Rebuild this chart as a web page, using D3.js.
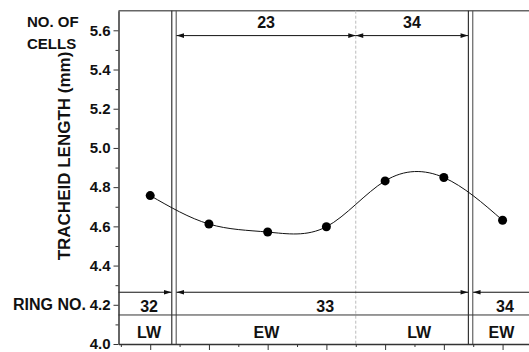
<!DOCTYPE html>
<html>
<head>
<meta charset="utf-8">
<script src="https://cdn.jsdelivr.net/npm/d3@7"></script>
<style>
  body { margin: 0; background: #fff; }
  text { font-family: "Liberation Sans", Arial, sans-serif; font-weight: bold; fill: #111; }
</style>
</head>
<body>
<div id="chart"></div>
<script>
// data
var positions   = [1, 2, 3, 4, 5, 6, 7];
var trachLength = [4.757, 4.612, 4.571, 4.598, 4.832, 4.849, 4.631];

var yMajor = [4.0, 4.2, 4.4, 4.6, 4.8, 5.0, 5.2, 5.4, 5.6];
var yMinor = [4.1, 4.3, 4.5, 4.7, 4.9, 5.1, 5.3, 5.5];
var xMajor = [1, 2, 3, 4, 5, 6, 7];
var xMinor = [0.5, 1.5, 2.5, 3.5, 4.5, 5.5, 6.5];

var ringBounds = [1.405, 6.455];   // ring boundaries (double lines)
var zoneBound  = 4.5;              // EW / LW boundary (dashed)
var ringNos    = ["32", "33", "34"];
var ringX      = [0.98, 3.98, 7.04];
var zones      = ["LW", "EW", "LW", "EW"];
var zoneX      = [0.98, 2.98, 5.58, 6.98];
var cellCounts = ["23", "34"];

var width = 529, height = 352;

var svg = d3.select("#chart")
    .append("svg")
        .attr("width", width)
        .attr("height", height);

var x = d3.scaleLinear()
        .domain([0.46, 7.45])
        .range([118.5, 529]);

var y = d3.scaleLinear()
        .domain([4.0, 5.7])
        .range([344, 10.7]);

// top frame
svg.append("line")
    .attr("x1", x(0.46)).attr("x2", width)
    .attr("y1", y(5.7)).attr("y2", y(5.7))
    .attr("stroke", "#666").attr("stroke-width", 1.5);

// ring boundaries and EW/LW boundary
ringBounds.forEach(function(b) {
    [-2.2, 2.2].forEach(function(off, k) {
        svg.append("line")
            .attr("x1", x(b) + off).attr("x2", x(b) + off)
            .attr("y1", y(5.7)).attr("y2", y(4.0))
            .attr("stroke", k == 0 ? "#222" : "#555")
            .attr("stroke-width", 1.1);
    });
});

svg.append("line")
    .attr("x1", x(zoneBound)).attr("x2", x(zoneBound))
    .attr("y1", y(5.7)).attr("y2", y(4.0))
    .attr("stroke", "#bbb")
    .attr("stroke-dasharray", "3,2");

// separator under ring numbers
svg.append("line")
    .attr("x1", x(0.46)).attr("x2", width)
    .attr("y1", y(4.148)).attr("y2", y(4.148))
    .attr("stroke", "#333").attr("stroke-width", 1);

function arrowHead(px, py, dir) {
    var L = 7.5, w = 2.3;
    svg.append("path")
        .attr("d", "M" + px + "," + py +
                   "L" + (px - dir * L) + "," + (py - w) +
                   "L" + (px - dir * L) + "," + (py + w) + "Z")
        .attr("fill", "#111");
}

function span(x1, x2, yv, leftArrow, rightArrow) {
    svg.append("line")
        .attr("x1", x1).attr("x2", x2)
        .attr("y1", y(yv)).attr("y2", y(yv))
        .attr("stroke", "#111").attr("stroke-width", 1);
    if (leftArrow) arrowHead(x1, y(yv), -1);
    if (rightArrow) arrowHead(x2, y(yv), 1);
}

// number of cells row
var cellSegs = [[x(ringBounds[0]) + 2.5, x(zoneBound)], [x(zoneBound), x(ringBounds[1]) - 2.5]];
cellSegs.forEach(function(s, i) {
    span(s[0], s[1], 5.573, true, true);
    svg.append("text")
        .attr("x", (s[0] + s[1]) / 2)
        .attr("y", y(5.612))
        .attr("text-anchor", "middle")
        .style("font-size", "16px")
        .text(cellCounts[i]);
});

// ring number row
span(x(0.46), x(ringBounds[0]) - 2.5, 4.264, false, true);
span(x(ringBounds[0]) + 2.5, x(ringBounds[1]) - 2.5, 4.264, true, true);
span(x(ringBounds[1]) + 2.5, width, 4.264, true, false);

svg.selectAll(".ring")
    .data(ringNos)
    .enter().append("text")
        .attr("class", "ring")
        .attr("x", function(d, i) { return x(ringX[i]); })
        .attr("y", y(4.161))
        .attr("text-anchor", "middle")
        .style("font-size", "16px")
        .text(function(d) { return d; });

svg.selectAll(".zone")
    .data(zones)
    .enter().append("text")
        .attr("class", "zone")
        .attr("x", function(d, i) { return x(zoneX[i]); })
        .attr("y", y(4.031))
        .attr("text-anchor", "middle")
        .style("font-size", "16px")
        .text(function(d) { return d; });

// axes
var yAxis = svg.append("g")
    .attr("transform", "translate(" + x(0.46) + ",0)")
    .call(d3.axisLeft(y).tickValues(yMajor).tickSize(5).tickSizeOuter(0)
        .tickFormat(d3.format(".1f")));
yAxis.selectAll("text").style("font-size", "15px").attr("x", -8);

svg.append("g")
    .attr("transform", "translate(" + x(0.46) + ",0)")
    .call(d3.axisLeft(y).tickValues(yMinor).tickSize(3).tickFormat(""))
    .select(".domain").remove();

svg.append("g")
    .attr("transform", "translate(0," + y(4.0) + ")")
    .call(d3.axisBottom(x).tickValues(xMajor).tickSize(6).tickSizeOuter(0).tickFormat(""));

svg.append("g")
    .attr("transform", "translate(0," + y(4.0) + ")")
    .call(d3.axisBottom(x).tickValues(xMinor).tickSize(3).tickFormat(""))
    .select(".domain").remove();

svg.selectAll(".domain").attr("stroke", "#333").attr("stroke-width", 1.5);
svg.selectAll(".tick line").attr("stroke", "#333");

// curve and points
var pts = positions.map(function(d, i) { return [d, trachLength[i]]; });

svg.append("path")
    .datum(pts)
    .attr("fill", "none")
    .attr("stroke", "#111")
    .attr("stroke-width", 1)
    .attr("d", d3.line()
        .curve(d3.curveNatural)
        .x(function(d) { return x(d[0]); })
        .y(function(d) { return y(d[1]); }));

svg.selectAll(".pt")
    .data(pts)
    .enter().append("circle")
        .attr("class", "pt")
        .attr("cx", function(d) { return x(d[0]); })
        .attr("cy", function(d) { return y(d[1]); })
        .attr("r", 4.5)
        .attr("fill", "#000");

// side labels
svg.append("text").attr("x", 27).attr("y", 27).style("font-size", "15px").text("NO. OF");
svg.append("text").attr("x", 27).attr("y", 49).style("font-size", "15px").text("CELLS");
svg.append("text").attr("x", 13).attr("y", 309.5).style("font-size", "16px").text("RING NO.");

svg.append("text")
    .attr("transform", "translate(70,156) rotate(-90)")
    .attr("text-anchor", "middle")
    .style("font-size", "17px")
    .text("TRACHEID LENGTH (mm)");
</script>
</body>
</html>
